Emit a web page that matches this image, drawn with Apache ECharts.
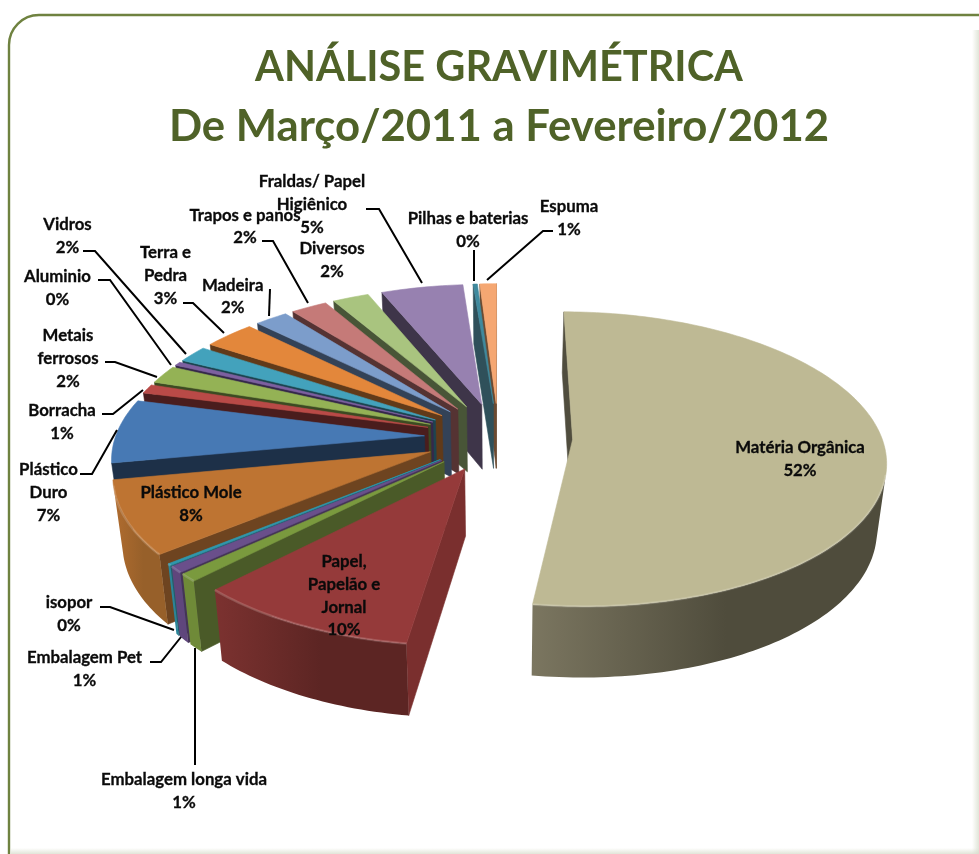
<!DOCTYPE html>
<html><head><meta charset="utf-8">
<style>html,body{margin:0;padding:0;background:#fff}#c{width:979px;height:854px}</style>
<script src="https://cdn.jsdelivr.net/npm/echarts@6/dist/echarts.min.js"></script>
</head><body><div id="c"></div>
<script>
// ---- data (clockwise from 12 o'clock) ----
const sliceNames = ['Matéria Orgânica','Papel,\nPapelão e\nJornal','Embalagem longa vida','Embalagem Pet','isopor','Plástico Mole','Plástico\nDuro','Borracha','Metais\nferrosos','Aluminio','Vidros','Terra e\nPedra','Madeira','Trapos e panos','Diversos','Fraldas/ Papel\nHigiênico','Pilhas e baterias','Espuma'];
const sliceValues = [52.3,10.0,0.85,0.7,0.2,8.0,7.0,1.0,2.0,0.4,1.85,3.1,2.0,2.2,2.2,4.95,0.25,1.0];
const titleLines = ['ANÁLISE GRAVIMÉTRICA','De Março/2011 a Fevereiro/2012'];
// ---- style ----
const topColors  = ['#BEB994','#953A3A','#7A9A3E','#6A4F8B','#2F97AC','#BE7432','#4779B4','#B94A47','#94B255','#7D60A0','#43A2BC','#E3873B','#7C9DCB','#C57A78','#A9C47F','#9781B0','#3F8A9E','#F5A772'];
const cutColors  = ['#504D3E','#7A2F2E','#4A5A28','#453456','#1E5E6C','#6E4420','#1D3048','#4A1D1D','#3C4A22','#35284A','#1C4450','#613A19','#334257','#553333','#485537','#3E3549','#2F505A','#6B4A31'];
const wallLight  = ['#7B7660','#7C3230','#6F8A38','#5F467C','#2A8599','#B06C2F','#2F5078','#7A3030','#647A38','#55406E','#2E7080','#A0602A','#5A7290','#8A5654','#76895A','#6A5A7C','#357888','#B07850'];
const wallDark   = ['#4F4C3C','#5C2523','#6F8A38','#5F467C','#2A8599','#97602A','#1D3048','#4A1D1D','#3C4A22','#35284A','#1C4450','#613A19','#334257','#553333','#485537','#3E3549','#2F505A','#6B4A31'];
// ---- label layout: [centre x, centre y of first line, leader polyline] ----
const labelLayout = [
  [800,448,null],[344,562,null],[184,780,[[195,765],[195,648]]],[84.5,658,[[150,662],[161,662],[181,637]]],[69,603,[[100,607],[110,607],[174,630]]],
  [191,493,null],[48.5,470,[[80,474],[92,474],[117,430]]],[62,411,[[102,414],[113,414],[143,390]]],[68,336,[[105,362],[115,362],[157,377]]],
  [57.5,277,[[98,280],[110,280],[171,365]]],[67.5,225,[[83,251],[95,251],[186,354]]],[165.5,253,[[183,303],[193,303],[224,333]]],
  [232.7,285.5,[[270,289],[269,316]]],[245,215.5,[[262,241],[273,241],[308,303]]],[332,249,null],[312,182,[[366,209],[379,209],[422,283]]],
  [468,219,[[474,250],[474,281]]],[569,207,[[553,231],[543,231],[487,280]]]
];
const sum = sliceValues.reduce((a,b)=>a+b,0);
const EXPL=0.24, CX=498.5, CY=437, R=309, RY=144, K=0.133;
function rad(v){return v/sum*2*Math.PI;}
let acc=0;
const slices = sliceValues.map((v,i)=>{const a0=acc; acc+=rad(v); return {i,a0,a1:acc,mid:(a0+acc)/2};});
function topP(s,r,th){const X=EXPL*Math.sin(s.mid)+r*Math.sin(th),Y=-EXPL*Math.cos(s.mid)-r*Math.cos(th),k=1/(1-K*Y);
  return {x:CX+R*X*k,y:CY+RY*Y*k,Y:Y};}
function botP(p){const h=66+5*p.Y; return [CX+(p.x-CX)*0.975,p.y+h];}
function area(q){let a=0;for(let i=0;i<q.length;i++){const b=q[(i+1)%q.length];a+=q[i][0]*b[1]-b[0]*q[i][1];}return a;}
function poly(pts,fill){return {type:'polygon',shape:{points:pts},style:{fill:fill,stroke:fill,lineWidth:0.6}};}
function renderItem(params,api){
  const s=slices[api.value(0)], i=s.i, n=Math.max(3,Math.ceil((s.a1-s.a0)/0.02));
  const apex=topP(s,0,0), rim=[];
  for(let j=0;j<=n;j++){rim.push(topP(s,1,s.a0+(s.a1-s.a0)*j/n));}
  const toXY=p=>[p.x,p.y];
  const kids=[];
  [[rim[0],apex],[apex,rim[n]]].forEach(e=>{
    const q=[toXY(e[0]),toXY(e[1]),botP(e[1]),botP(e[0])];
    if(area(q)>0) kids.push(poly(q,cutColors[i]));
  });
  let runs=[],cur=null;
  for(let j=0;j<n;j++){const q=[toXY(rim[j]),toXY(rim[j+1]),botP(rim[j+1]),botP(rim[j])];
    if(area(q)<0){ if(!cur){cur=[j];runs.push(cur);} cur[1]=j+1; } else cur=null; }
  runs.forEach(r=>{
    const up=[],dn=[];
    for(let j=r[0];j<=r[1];j++){up.push(toXY(rim[j]));dn.unshift(botP(rim[j]));}
    kids.push({type:'polygon',shape:{points:up.concat(dn)},style:{fill:new echarts.graphic.LinearGradient(0,0,1,0,[{offset:0,color:wallLight[i]},{offset:0.55,color:wallDark[i]},{offset:1,color:wallDark[i]}])}});
  });
  kids.push(poly([toXY(apex)].concat(rim.map(toXY)),topColors[i]));
  runs.forEach(r=>{
    const pts=[];for(let j=r[0];j<=r[1];j++)pts.push(toXY(rim[j]));
    kids.push({type:'polyline',shape:{points:pts},style:{fill:null,stroke:'rgba(255,255,255,0.16)',lineWidth:2.5}});
  });
  return {type:'group',children:kids};
}
const order = slices.slice().sort((a,b)=>(-Math.cos(a.mid))-(-Math.cos(b.mid))).map(s=>[s.i]);
// ---- frame, labels and leaders ----
const FONT='Lato';
const fade=(x0,y0,x1,y1)=>new echarts.graphic.LinearGradient(x0,y0,x1,y1,[{offset:0,color:'rgba(215,220,203,0)'},{offset:1,color:'rgba(215,220,203,0.75)'}]);
const graphics=[
  {type:'rect',z:0,shape:{x:9,y:15,width:1000,height:870,r:30},style:{fill:'#fff',stroke:'#6F8240',lineWidth:2.4}},
  {type:'rect',z:1,shape:{x:972,y:30,width:7,height:824},style:{fill:fade(0,0,1,0)}},
  {type:'rect',z:1,shape:{x:11,y:848,width:968,height:6},style:{fill:fade(0,0,0,1)}}
];
sliceNames.forEach((name,i)=>{
  const L=labelLayout[i], pct=Math.round(sliceValues[i]/sum*100)+'%';
  if(L[2]) graphics.push({type:'polyline',z:20,shape:{points:L[2]},style:{fill:null,stroke:'#000',lineWidth:2}});
  graphics.push({type:'text',z:21,x:L[0],y:L[1]-11.5,style:{text:name+'\n'+pct,fill:'#0a0a0a',stroke:'#0a0a0a',lineWidth:0.3,font:'bold 16.8px '+FONT,align:'center',verticalAlign:'top',lineHeight:22.7}});
});
const chart=echarts.init(document.getElementById('c'),null,{renderer:'canvas',width:979,height:854});
chart.setOption({
  animation:false,backgroundColor:'#fff',
  title:{text:'{a|'+titleLines[0]+'}\n{b|'+titleLines[1]+'}',left:494,top:33,textAlign:'center',textStyle:{rich:{
    a:{fontFamily:FONT,fontWeight:'bold',fontSize:41.5,lineHeight:59,color:'#4F6228'},
    b:{fontFamily:FONT,fontWeight:'bold',fontSize:43.7,lineHeight:59,color:'#4F6228'}}}},
  graphic:graphics,
  xAxis:{show:false},yAxis:{show:false},
  series:[{type:'custom',coordinateSystem:'none',data:order,renderItem:renderItem,silent:true,z:5}]
});
</script></body></html>
